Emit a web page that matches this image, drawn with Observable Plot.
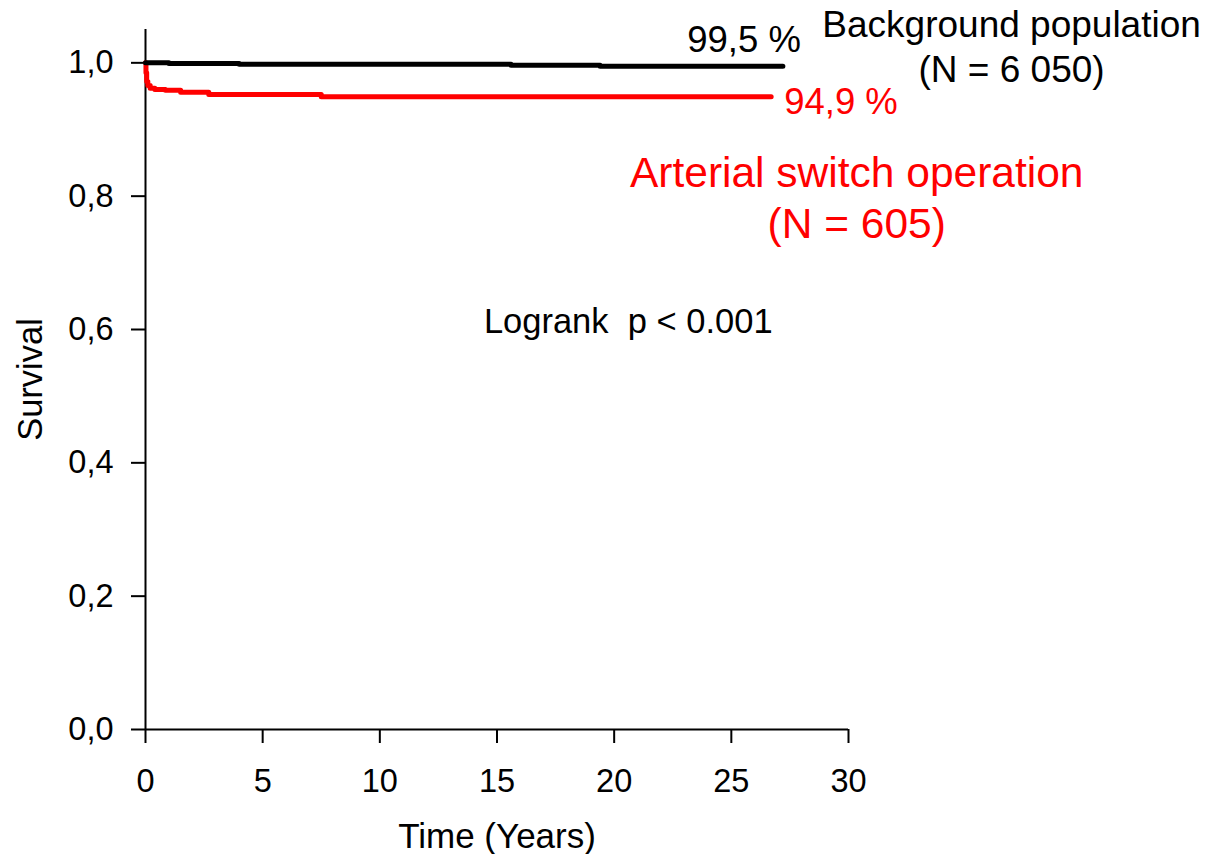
<!DOCTYPE html>
<html>
<head>
<meta charset="utf-8">
<script src="https://cdn.jsdelivr.net/npm/d3@7"></script>
<script src="https://cdn.jsdelivr.net/npm/@observablehq/plot@0.6"></script>
<style>
  html, body { margin: 0; padding: 0; background: #fff; }
  #chart svg { display: block; }
</style>
</head>
<body>
<div id="chart"></div>
<script>
// Kaplan–Meier survival: arterial switch operation cohort vs. matched background population
const bgTime = [0, 1.0, 4.0, 15.6, 19.4, 27.2];
const bgSurv = [1.0, 0.999, 0.998, 0.9965, 0.995, 0.995];

const asoTime = [0, 0.02, 0.05, 0.1, 0.2, 0.4, 0.85, 1.5, 2.7, 7.5, 26.7];
const asoSurv = [1.0, 0.985, 0.972, 0.966, 0.962, 0.960, 0.9587, 0.956, 0.9525, 0.949, 0.949];

const xTicks = [0, 5, 10, 15, 20, 25, 30];
const yTicks = [0, 0.2, 0.4, 0.6, 0.8, 1.0];

const bgName = "Background population\n(N = 6 050)";
const asoName = "Arterial switch operation\n(N = 605)";
const testLabel = "Logrank\u00a0 p < 0.001";

const bg = bgTime.map((t, i) => ({t, s: bgSurv[i]}));
const aso = asoTime.map((t, i) => ({t, s: asoSurv[i]}));

const comma = d => d.toFixed(1).replace(".", ",");
const pct = v => `${(v * 100).toFixed(1).replace(".", ",")} %`;

const bgEnd = bg[bg.length - 1];
const asoEnd = aso[aso.length - 1];

const font = "'Liberation Sans', Arial, sans-serif";

const chart = Plot.plot({
  width: 1209,
  height: 854,
  marginLeft: 145,
  marginRight: 361,
  marginTop: 29,
  marginBottom: 125,
  style: {fontFamily: font, background: "#fff", color: "#000", overflow: "visible"},
  x: {domain: [0, 30]},
  y: {domain: [0, 1.05]},
  marks: [
    Plot.axisY({ticks: yTicks, tickFormat: comma, tickSize: 14, tickPadding: 18,
                fontSize: 32.5, strokeWidth: 2, label: null}),
    Plot.axisX({ticks: xTicks, tickFormat: d => String(d), tickSize: 14, tickPadding: 25,
                fontSize: 32.5, strokeWidth: 2, label: null}),
    Plot.ruleX([0], {stroke: "#000", strokeWidth: 2}),
    Plot.ruleY([0], {stroke: "#000", strokeWidth: 2}),

    // survival curves
    Plot.line(aso, {x: "t", y: "s", curve: "step-after", stroke: "#ff0000",
                    strokeWidth: 5, strokeLinecap: "round", strokeLinejoin: "round"}),
    Plot.line(bg, {x: "t", y: "s", curve: "step-after", stroke: "#000",
                   strokeWidth: 5, strokeLinecap: "round", strokeLinejoin: "round"}),

    // end-of-follow-up survival values
    Plot.text([bgEnd], {x: "t", y: "s", text: d => pct(d.s), textAnchor: "end",
                        dx: 18, dy: -26, fontSize: 36.5, fill: "#000"}),
    Plot.text([asoEnd], {x: "t", y: "s", text: d => pct(d.s), textAnchor: "start",
                         dx: 13, dy: 5, fontSize: 36.5, fill: "#ff0000"}),

    // group names
    Plot.text([bgName], {x: () => 36.96, y: () => 1.0263, text: d => d, fontSize: 37,
                         lineHeight: 1.22, fill: "#000"}),
    Plot.text([asoName], {x: () => 30.35, y: () => 0.7995, text: d => d, fontSize: 42.5,
                          lineHeight: 1.2, fill: "#ff0000"}),

    // test statistic
    Plot.text([testLabel], {x: () => 20.6, y: () => 0.611, text: d => d, fontSize: 34.5,
                            fill: "#000"}),

    // axis titles
    Plot.text(["Time (Years)"], {frameAnchor: "bottom", lineAnchor: "middle", dy: 107,
                                 fontSize: 35, fill: "#000"}),
    Plot.text(["Survival"], {frameAnchor: "left", textAnchor: "middle", lineAnchor: "middle",
                             dx: -115, rotate: -90, fontSize: 34.5, fill: "#000"})
  ]
});

document.getElementById("chart").appendChild(chart);
</script>
</body>
</html>
